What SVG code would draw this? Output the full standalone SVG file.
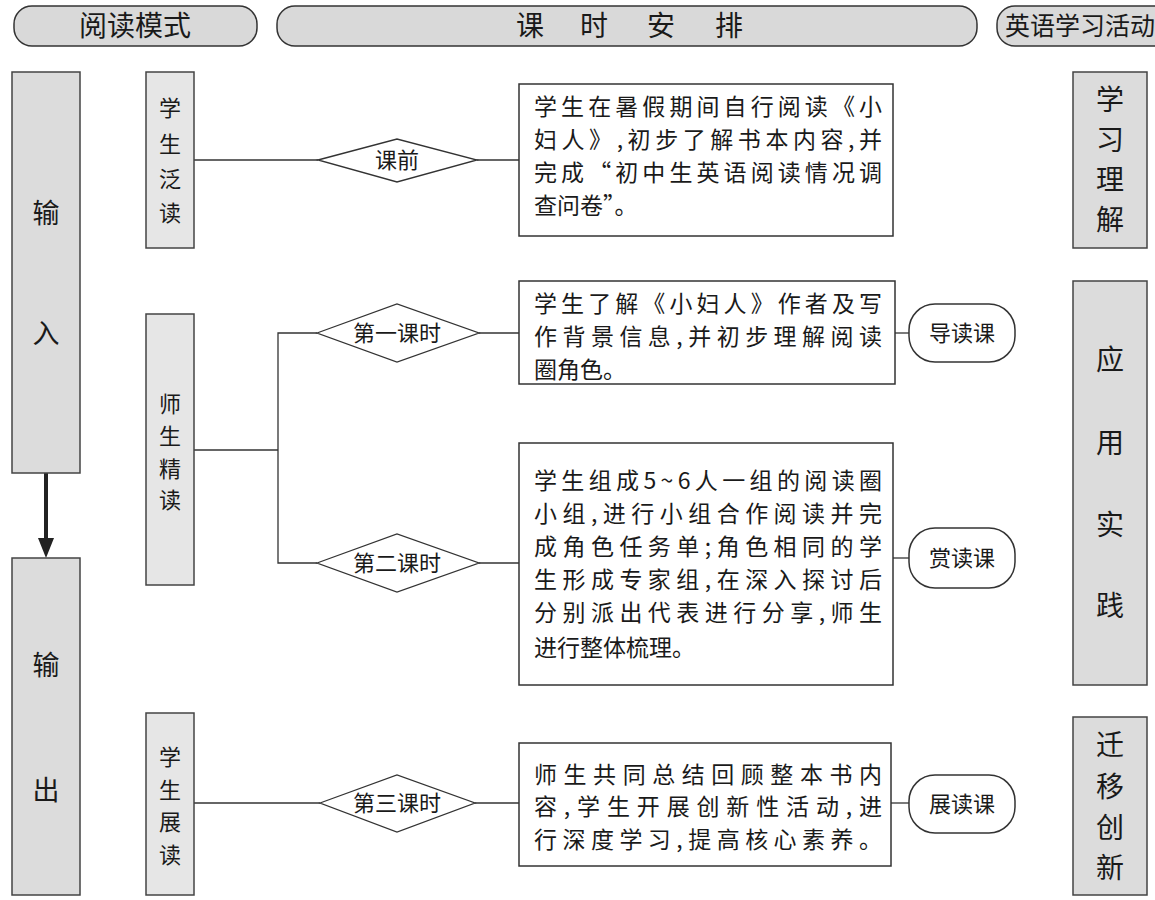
<svg xmlns="http://www.w3.org/2000/svg" width="1155" height="900" viewBox="0 0 1155 900">
<style>
text{font-family:"Noto Sans CJK SC","Noto Sans CJK JP",sans-serif;fill:#1a1a1a}
.hdr{fill:#d9d9d9;stroke:#333;stroke-width:1.5}
.gbox{fill:#dcdcdc;stroke:#444;stroke-width:1.5}
.lbox{fill:#e6e6e6;stroke:#444;stroke-width:1.5}
.tbox{fill:#fff;stroke:#333;stroke-width:1.5}
.dia{fill:#fff;stroke:#333;stroke-width:1.3}
.pill{fill:#fff;stroke:#333;stroke-width:1.5}
.ln{stroke:#333;stroke-width:1.3;fill:none}
.h{font-size:28px;text-anchor:middle}
.big{font-size:27px;text-anchor:middle}
.v{font-size:22px;text-anchor:middle}
.r{font-size:28px;text-anchor:middle}
.b{font-size:23px}
.d{font-size:22px;text-anchor:middle}
</style>

<g id="header">
<rect class="hdr" x="14" y="6" width="243" height="40" rx="18"/>
<text class="h" x="135" y="36">阅读模式</text>
<rect class="hdr" x="277" y="6" width="700" height="40" rx="18"/>
<text class="h" x="530" y="36">课</text>
<text class="h" x="594" y="36">时</text>
<text class="h" x="661" y="36">安</text>
<text class="h" x="729" y="36">排</text>
<rect class="hdr" x="997" y="6" width="200" height="40" rx="18"/>
<text x="1005" y="35" style="font-size:25px">英语学习活动</text>
</g>

<g id="connectors">
<line x1="46" y1="473" x2="46" y2="540" stroke="#222" stroke-width="4"/>
<polygon points="38,538 54,538 46,558" fill="#222"/>
<line class="ln" x1="194" y1="160" x2="318" y2="160"/>
<line class="ln" x1="477" y1="160" x2="519" y2="160"/>
<polyline class="ln" points="194,450 278,450"/>
<polyline class="ln" points="317,333 278,333 278,563 317,563"/>
<line class="ln" x1="479" y1="333" x2="519" y2="333"/>
<line class="ln" x1="479" y1="563" x2="519" y2="563"/>
<line class="ln" x1="895" y1="333" x2="909" y2="333"/>
<line class="ln" x1="893" y1="558" x2="909" y2="558"/>
<line class="ln" x1="194" y1="803" x2="320" y2="803"/>
<line class="ln" x1="475" y1="803" x2="519" y2="803"/>
<line class="ln" x1="891" y1="803" x2="909" y2="803"/>
</g>

<g id="input">
<rect class="gbox" x="12" y="72" width="68" height="401"/>
<text class="big" x="46" y="223">输</text>
<text class="big" x="46" y="343">入</text>
</g>
<g id="output">
<rect class="gbox" x="12" y="558" width="68" height="337"/>
<text class="big" x="46" y="675">输</text>
<text class="big" x="46" y="800">出</text>
</g>

<g id="fandu">
<rect class="lbox" x="146" y="72" width="48" height="176"/>
<text class="v" x="170" y="116">学</text>
<text class="v" x="170" y="152">生</text>
<text class="v" x="170" y="187">泛</text>
<text class="v" x="170" y="221">读</text>
</g>
<g id="jingdu">
<rect class="lbox" x="146" y="314" width="48" height="271"/>
<text class="v" x="170" y="412">师</text>
<text class="v" x="170" y="444">生</text>
<text class="v" x="170" y="477">精</text>
<text class="v" x="170" y="508">读</text>
</g>
<g id="zhandu">
<rect class="lbox" x="146" y="713" width="48" height="182"/>
<text class="v" x="170" y="765">学</text>
<text class="v" x="170" y="798">生</text>
<text class="v" x="170" y="830">展</text>
<text class="v" x="170" y="863">读</text>
</g>

<g id="d-keqian">
<polygon class="dia" points="318,160 397,139 477,160 397,182"/>
<text class="d" x="397" y="168">课前</text>
</g>
<g id="d-1">
<polygon class="dia" points="317,333 397,304 479,333 397,362"/>
<text class="d" x="397" y="341">第一课时</text>
</g>
<g id="d-2">
<polygon class="dia" points="317,563 397,534 479,563 397,592"/>
<text class="d" x="397" y="571">第二课时</text>
</g>
<g id="d-3">
<polygon class="dia" points="320,803 397,775 475,803 397,832"/>
<text class="d" x="397" y="811">第三课时</text>
</g>

<g id="box-keqian">
<rect class="tbox" x="519" y="84" width="374" height="152"/>
<text class="b" x="534" y="115" textLength="348" lengthAdjust="spacing">学生在暑假期间自行阅读《小</text>
<text class="b" x="534" y="148" textLength="348" lengthAdjust="spacing">妇人》,初步了解书本内容,并</text>
<text class="b" x="534" y="181" textLength="348" lengthAdjust="spacing">完成“初中生英语阅读情况调</text>
<text class="b" x="534" y="214">查问卷”。</text>
</g>
<g id="box-1">
<rect class="tbox" x="519" y="281" width="376" height="103"/>
<text class="b" x="534" y="312" textLength="348" lengthAdjust="spacing">学生了解《小妇人》作者及写</text>
<text class="b" x="534" y="345" textLength="348" lengthAdjust="spacing">作背景信息,并初步理解阅读</text>
<text class="b" x="534" y="378">圈角色。</text>
</g>
<g id="box-2">
<rect class="tbox" x="519" y="443" width="374" height="242"/>
<text class="b" x="534" y="489" textLength="348" lengthAdjust="spacing">学生组成5~6人一组的阅读圈</text>
<text class="b" x="534" y="522" textLength="348" lengthAdjust="spacing">小组,进行小组合作阅读并完</text>
<text class="b" x="534" y="555" textLength="348" lengthAdjust="spacing">成角色任务单;角色相同的学</text>
<text class="b" x="534" y="588" textLength="348" lengthAdjust="spacing">生形成专家组,在深入探讨后</text>
<text class="b" x="534" y="621" textLength="348" lengthAdjust="spacing">分别派出代表进行分享,师生</text>
<text class="b" x="534" y="656">进行整体梳理。</text>
</g>
<g id="box-3">
<rect class="tbox" x="519" y="743" width="372" height="123"/>
<text class="b" x="534" y="783" textLength="348" lengthAdjust="spacing">师生共同总结回顾整本书内</text>
<text class="b" x="534" y="815" textLength="348" lengthAdjust="spacing">容,学生开展创新性活动,进</text>
<text class="b" x="534" y="848" textLength="348" lengthAdjust="spacing">行深度学习,提高核心素养。</text>
</g>

<g id="p-daodu">
<rect class="pill" x="909" y="304" width="106" height="58" rx="26"/>
<text class="d" x="962" y="341">导读课</text>
</g>
<g id="p-shangdu">
<rect class="pill" x="909" y="528" width="106" height="60" rx="26"/>
<text class="d" x="962" y="566">赏读课</text>
</g>
<g id="p-zhandu">
<rect class="pill" x="909" y="775" width="106" height="58" rx="26"/>
<text class="d" x="962" y="812">展读课</text>
</g>

<g id="r-lijie">
<rect class="gbox" x="1073" y="72" width="74" height="176"/>
<text class="r" x="1110" y="110">学</text>
<text class="r" x="1110" y="150">习</text>
<text class="r" x="1110" y="190">理</text>
<text class="r" x="1110" y="230">解</text>
</g>
<g id="r-shijian">
<rect class="gbox" x="1073" y="281" width="74" height="404"/>
<text class="r" x="1110" y="370">应</text>
<text class="r" x="1110" y="453">用</text>
<text class="r" x="1110" y="535">实</text>
<text class="r" x="1110" y="616">践</text>
</g>
<g id="r-chuangxin">
<rect class="gbox" x="1073" y="717" width="74" height="178"/>
<text class="r" x="1110" y="755">迁</text>
<text class="r" x="1110" y="797">移</text>
<text class="r" x="1110" y="838">创</text>
<text class="r" x="1110" y="878">新</text>
</g>
</svg>
